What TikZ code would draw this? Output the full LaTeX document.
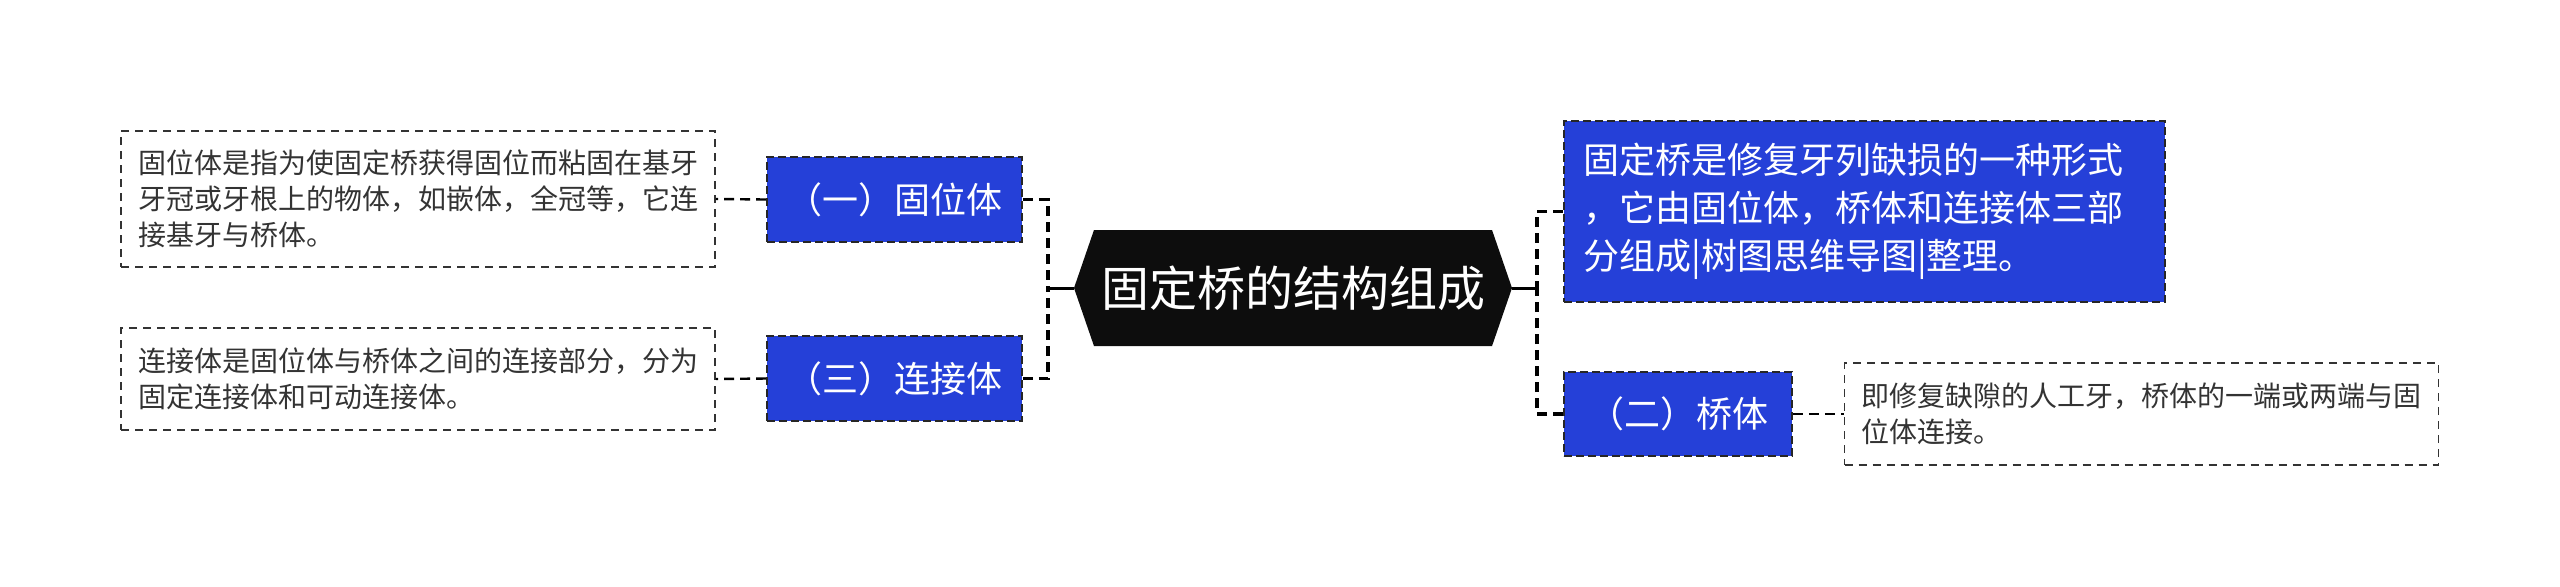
\documentclass[tikz,border=0pt]{standalone}
\usepackage{fontspec}
\setmainfont{Noto Sans CJK SC}
\usetikzlibrary{shapes.symbols}
\definecolor{nodeblue}{RGB}{37,64,216}
\definecolor{rootblack}{RGB}{13,13,13}
\definecolor{notegray}{RGB}{51,51,51}

\begin{document}
\begin{tikzpicture}[x=0.5pt,y=-0.5pt,
  rootnode/.style={shape=signal,signal to=west and east,signal pointer angle=142,fill=rootblack,text=white,minimum width=219pt,minimum height=58pt,inner sep=0pt,font=\fontsize{24}{28}\selectfont},
  topic/.style={fill=nodeblue,draw=black!85,line width=0.9pt,dash pattern=on 4pt off 2pt,text=white,inner sep=0pt,font=\fontsize{18}{24}\selectfont},
  note/.style={draw=black!80,line width=0.9pt,dash pattern=on 4pt off 3pt,text=notegray,align=left,inner sep=0pt,minimum width=297pt,font=\fontsize{14}{18}\selectfont},
  link/.style={line width=1.8pt,dash pattern=on 5pt off 3pt},
  notelink/.style={line width=1.2pt,dash pattern=on 5pt off 3pt},
  stub/.style={line width=1.5pt}]
\useasboundingbox (0,0) rectangle (2560,586);
% centre
\node[rootnode] (root) at (1293,288) {固定桥的结构组成};
\coordinate (jointL) at (1048,288);
\coordinate (jointR) at (1537,288);
% left side
\node[topic,minimum width=127.5pt,minimum height=42.5pt] (guwei) at (894.5,199.5) {（一）固位体};
\node[topic,minimum width=127.5pt,minimum height=42.5pt] (lianjie) at (894.5,378.5) {（三）连接体};
\node[note,minimum height=68pt] (guweinote) at (418,199) {固位体是指为使固定桥获得固位而粘固在基牙\\牙冠或牙根上的物体，如嵌体，全冠等，它连\\接基牙与桥体。};
\node[note,minimum height=51pt] (lianjienote) at (418,379) {连接体是固位体与桥体之间的连接部分，分为\\固定连接体和可动连接体。};
% right side
\node[topic,minimum width=300.5pt,minimum height=90.5pt,text width=281pt,align=left] (dingyi) at (1864.5,211.5) {固定桥是修复牙列缺损的一种形式\\，它由固位体，桥体和连接体三部\\分组成|树图思维导图|整理。};
\node[topic,minimum width=114pt,minimum height=42pt] (qiaoti) at (1678,414) {（二）桥体};
\node[note,minimum height=51pt] (qiaotinote) at (2141.5,414) {即修复缺隙的人工牙，桥体的一端或两端与固\\位体连接。};
% connectors
\draw[stub] (root.west) -- (jointL);
\draw[stub] (root.east) -- (jointR);
\draw[link] (guwei.east) -| (jointL);
\draw[link] (lianjie.east) -| (jointL);
\draw[link] (dingyi.west) -| (jointR);
\draw[link] (qiaoti.west) -| (jointR);
\draw[notelink] (guwei.west) -- (guweinote.east);
\draw[notelink] (lianjie.west) -- (lianjienote.east);
\draw[notelink] (qiaoti.east) -- (qiaotinote.west);
\end{tikzpicture}
\end{document}
